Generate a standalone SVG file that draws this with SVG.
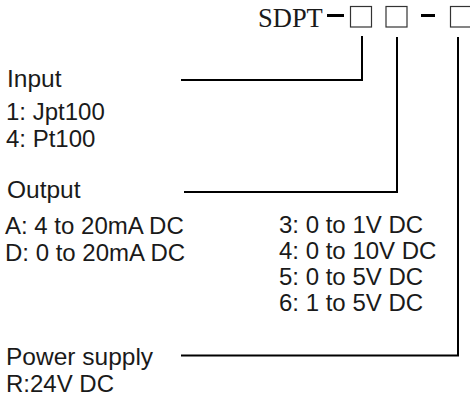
<svg xmlns="http://www.w3.org/2000/svg" width="470" height="396" viewBox="0 0 470 396">
<style>
.lbl{font-family:"Liberation Sans",Arial,sans-serif;font-size:24.5px;fill:#1a1a1a}
.it{font-family:"Liberation Sans",Arial,sans-serif;font-size:24px;fill:#1a1a1a}
.code{font-family:"Liberation Serif","Times New Roman",serif;font-size:26.5px;fill:#1a1a1a}
.box{fill:#fff;stroke:#333;stroke-width:1.2}
.dash{stroke:#000;stroke-width:3}
.conn{fill:none;stroke:#000;stroke-width:2}
</style>
<rect width="470" height="396" fill="#fff"/>
<g id="model">
<text class="code" x="258" y="27">SDPT</text>
<line class="dash" x1="327" y1="15.5" x2="344" y2="15.5"/>
<rect class="box" x="350.5" y="6.5" width="21" height="20.5"/>
<rect class="box" x="386" y="6.5" width="21" height="20.5"/>
<line class="dash" x1="421" y1="15.5" x2="435" y2="15.5"/>
<rect class="box" x="450.5" y="6.5" width="21" height="20.5"/>
</g>
<g id="input">
<text class="lbl" x="7" y="86.5">Input</text>
<text class="it" x="6" y="119.5">1: Jpt100</text>
<text class="it" x="6" y="147">4: Pt100</text>
</g>
<g id="output">
<text class="lbl" x="7" y="197.5">Output</text>
<text class="it" x="5" y="234">A: 4 to 20mA DC</text>
<text class="it" x="5" y="261">D: 0 to 20mA DC</text>
<text class="it" x="279" y="233">3: 0 to 1V DC</text>
<text class="it" x="279" y="259">4: 0 to 10V DC</text>
<text class="it" x="279" y="284.5">5: 0 to 5V DC</text>
<text class="it" x="279" y="310.5">6: 1 to 5V DC</text>
</g>
<g id="power">
<text class="lbl" x="6" y="365">Power supply</text>
<text class="it" x="6" y="391.5">R:24V DC</text>
</g>
<g id="connectors">
<polyline class="conn" points="181,80 362,80 362,36"/>
<polyline class="conn" points="184,192 397,192 397,37"/>
<polyline class="conn" points="181,355.5 458,355.5 458,37"/>
</g>
</svg>
